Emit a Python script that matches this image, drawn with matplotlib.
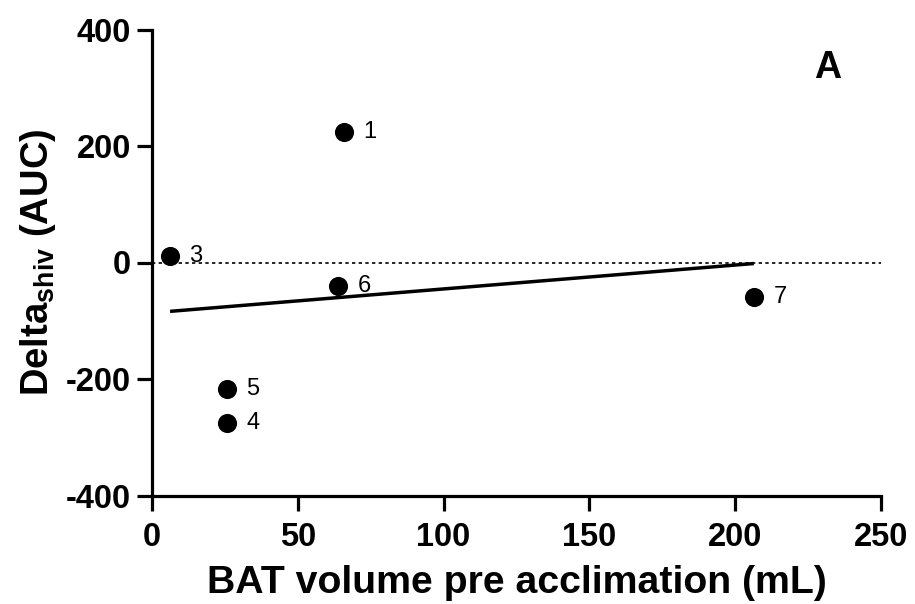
import numpy as np
import matplotlib
matplotlib.use("Agg")
import matplotlib.pyplot as plt

plt.rcParams['font.family'] = ['Liberation Sans', 'DejaVu Sans']
plt.rcParams['mathtext.fontset'] = 'custom'
plt.rcParams['mathtext.rm'] = 'Liberation Sans'
plt.rcParams['mathtext.bf'] = 'Liberation Sans:bold'

# Data
subject_ids = ["1", "3", "4", "5", "6", "7"]
bat_volume = [65.9, 6.2, 25.6, 25.6, 63.9, 206.4]
delta_shiv = [224.0, 11.0, -276.0, -217.0, -40.0, -59.0]
x_ticks = [0, 50, 100, 150, 200, 250]
y_ticks = [-400, -200, 0, 200, 400]

fig = plt.figure(figsize=(9.15, 6.04), dpi=100)
ax = fig.add_axes([152/915, 1-495.5/604, (881-152)/915, (495.5-29.5)/604])

x = np.array(bat_volume)
y = np.array(delta_shiv)

# zero reference line
ax.axhline(0, color='black', lw=1.2, ls=(0, (2.0, 2.0)), zorder=1)

# linear regression
slope, intercept = np.polyfit(x, y, 1)
xr = np.array([x.min(), x.max()])
ax.plot(xr, slope*xr + intercept, color='black', lw=2.5, solid_capstyle='butt', zorder=2)

ax.scatter(x, y, s=190, color='black', zorder=3, linewidths=0)
for sid, xi, yi in zip(subject_ids, x, y):
    ax.annotate(sid, (xi, yi), xytext=(14, 0), textcoords='offset points',
                ha='left', va='center', fontsize=17)

ax.text(231.8, 334, 'A', fontsize=27, fontweight='bold', ha='center', va='center')

ax.set_xlim(0, 250)
ax.set_ylim(-400, 400)
ax.set_xticks(x_ticks)
ax.set_yticks(y_ticks)
ax.set_yticklabels([str(v) for v in y_ticks])
for s in ['top', 'right']:
    ax.spines[s].set_visible(False)
for s in ['left', 'bottom']:
    ax.spines[s].set_linewidth(2.3)
ax.tick_params(width=2.3, length=11, labelsize=23.5, direction='out')
ax.tick_params(axis='x', pad=8)
ax.tick_params(axis='y', pad=4)
for lab in ax.get_xticklabels() + ax.get_yticklabels():
    lab.set_fontweight('bold')

ax.set_xlabel('BAT volume pre acclimation (mL)', fontsize=28.3, fontweight='bold', labelpad=9)
ax.set_ylabel(r'Delta$_{\mathbf{shiv}}$ (AUC)', fontsize=27.5, fontweight='bold', labelpad=6)

fig.savefig('out.png', dpi=100)
